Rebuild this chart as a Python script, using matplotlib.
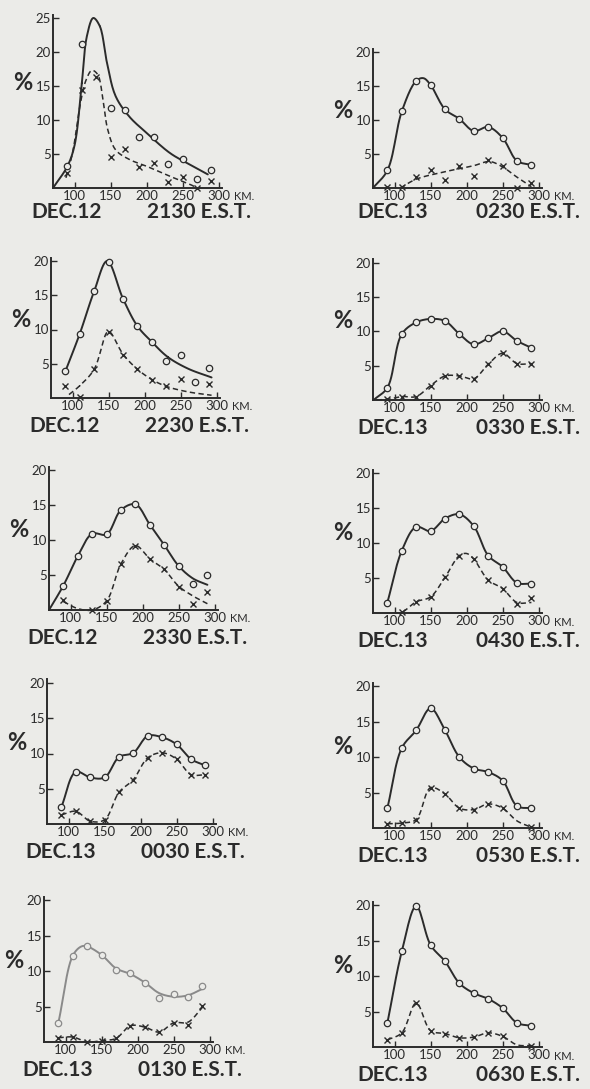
import numpy as np
import matplotlib
matplotlib.use("Agg")
import matplotlib.pyplot as plt

nan = np.nan

# ---------------- data ----------------
heights_km = [90, 110, 130, 150, 170, 190, 210, 230, 250, 270, 290]
x_ticks = [100, 150, 200, 250, 300]
x_tick_labels = ["100", "150", "200", "250", "300"]
unit_label = "KM."

dates = ["DEC.12", "DEC.13", "DEC.12", "DEC.13", "DEC.12",
         "DEC.13", "DEC.13", "DEC.13", "DEC.13", "DEC.13"]
times = ["2130 E.S.T.", "0230 E.S.T.", "2230 E.S.T.", "0330 E.S.T.", "2330 E.S.T.",
         "0430 E.S.T.", "0030 E.S.T.", "0530 E.S.T.", "0130 E.S.T.", "0630 E.S.T."]

# circles (solid curve) and crosses (dashed curve), % at each height
circ_2130 = [3.3, 21.2, nan, 11.8, 11.5, 7.5, 7.5, 3.6, 4.2, 1.3, 2.6]
cross_2130 = [2.2, 14.4, 16.3, 4.5, 5.8, 3.1, 3.7, 0.9, 1.6, 0.0, 1.0]
circ_0230 = [2.6, 11.3, 15.8, 15.2, 11.6, 10.2, 8.4, 9.0, 7.4, 4.0, 3.4]
cross_0230 = [0.2, 0.2, 1.6, 2.6, 1.2, 3.3, 1.8, 4.2, 3.2, 0.0, 0.8]
circ_2230 = [3.9, 9.4, 15.6, 19.9, 14.5, 10.5, 8.2, 5.4, 6.3, 2.3, 4.4]
cross_2230 = [1.8, 0.2, 4.2, 9.7, 6.3, 4.2, 2.7, 1.8, 2.8, nan, 2.0]
circ_0330 = [1.8, 9.6, 11.3, 11.8, 11.5, 9.6, 8.1, 9.0, 10.0, 8.6, 7.6]
cross_0330 = [0.1, 0.5, 0.5, 2.1, 3.5, 3.5, 3.1, 5.2, 6.8, 5.3, 5.3]
circ_2330 = [3.5, 7.7, 10.9, 10.8, 14.3, 15.1, 12.2, 9.3, 6.3, 3.7, 5.0]
cross_2330 = [1.5, nan, 0.0, 1.3, 6.6, 9.1, 7.3, 5.8, 3.3, 0.8, 2.6]
circ_0430 = [1.5, 8.9, 12.3, 11.7, 13.5, 14.1, 12.4, 8.2, 6.6, 4.3, 4.2]
cross_0430 = [nan, 0.1, 1.6, 2.3, 5.1, 8.2, 7.7, 4.7, 3.5, 1.3, 2.1]
circ_0030 = [2.4, 7.4, 6.6, 6.6, 9.5, 10.1, 12.5, 12.3, 11.3, 9.2, 8.3]
cross_0030 = [1.3, 1.8, 0.4, 0.6, 4.5, 6.3, 9.4, 10.1, 9.2, 7.0, 7.0]
circ_0530 = [2.8, 11.3, 13.8, 16.9, 13.8, 10.0, 8.4, 7.9, 6.7, 3.1, 2.8]
cross_0530 = [0.6, 0.7, 1.2, 5.7, 4.8, 2.8, 2.6, 3.4, 2.8, nan, 0.2]
circ_0130 = [2.7, 12.2, 13.5, 12.3, 10.2, 9.8, 8.4, 6.2, 6.8, 6.4, 7.9]
cross_0130 = [0.6, 0.7, 0.0, 0.2, 0.5, 2.3, 2.1, 1.4, 2.7, 2.4, 5.1]
circ_0630 = [3.4, 13.5, 19.9, 14.4, 12.1, 9.0, 7.6, 6.8, 5.5, 3.4, 3.0]
cross_0630 = [1.0, 2.0, 6.2, 2.3, 1.9, 1.3, 1.4, 2.0, 1.5, nan, 0.2]

# hand-drawn curve knots (km, %)
solid_2130 = [(70, 0), (90, 3.2), (100, 6.3), (110, 15.4), (117, 22.3), (126, 25.0), (135, 23.8),
              (145, 18.4), (157, 13.5), (176, 10.5), (200, 8.1), (233, 5.1), (261, 3.4), (285, 2.0)]
dashed_2130 = [(88, 1.5), (97, 5.1), (109, 13.0), (116, 15.9), (124, 17.3), (132, 16.7), (140, 12.5),
               (146, 8.6), (157, 5.6), (176, 4.2), (200, 3.2), (233, 1.7), (261, 0.5), (270, 0.0)]
solid_0230 = [(70, 0), (90, 2.6), (110, 11.3), (130, 15.8), (140, 16.2), (150, 15.2), (170, 11.6),
              (190, 10.2), (210, 8.4), (230, 9.0), (250, 7.4), (270, 4.0), (290, 3.4)]
dashed_0230 = [(108, 0.0), (130, 1.3), (170, 2.4), (210, 3.3), (232, 3.9), (250, 3.1), (270, 1.6), (290, 0.2)]
solid_2230 = [(90, 3.9), (110, 9.4), (130, 15.6), (148, 20.0), (170, 14.5), (190, 10.5), (210, 8.2),
              (232, 6.0), (260, 4.3), (293, 3.0)]
dashed_2230 = [(95, 0.5), (110, 1.8), (130, 4.2), (148, 9.6), (152, 9.6), (170, 6.4), (190, 4.2),
               (210, 2.7), (230, 1.7), (260, 0.9), (293, 0.4)]
solid_0330 = [(72, 0.1), (90, 1.8), (110, 9.6), (130, 11.3), (150, 11.8), (170, 11.5), (190, 9.6),
              (210, 8.1), (230, 9.0), (250, 10.0), (270, 8.6), (290, 7.6)]
dashed_0330 = [(75, 0.0), (90, 0.1), (110, 0.5), (130, 0.5), (150, 2.1), (170, 3.5), (190, 3.5),
               (210, 3.1), (230, 5.2), (250, 6.8), (270, 5.3), (290, 5.3)]
solid_2330 = [(70, 0), (90, 3.5), (110, 7.7), (130, 10.9), (150, 10.8), (170, 14.3), (190, 15.1),
              (210, 12.2), (230, 9.3), (250, 6.3), (270, 4.5), (290, 3.6)]
dashed_2330 = [(90, 1.2), (110, 0.2), (130, 0.0), (150, 1.3), (170, 6.6), (190, 9.2), (210, 7.3),
               (230, 5.8), (250, 3.4), (270, 2.0), (290, 0.9)]
solid_0430 = [(90, 1.5), (110, 8.9), (130, 12.3), (150, 11.7), (170, 13.5), (190, 14.1), (210, 12.4),
              (230, 8.2), (250, 6.6), (270, 4.3), (290, 4.2)]
dashed_0430 = [(100, 0.0), (110, 0.1), (130, 1.6), (150, 2.3), (170, 5.1), (190, 8.2), (200, 8.5),
               (210, 7.7), (230, 4.7), (250, 3.5), (270, 1.5), (290, 1.5)]
solid_0030 = list(zip(heights_km, circ_0030))
dashed_0030 = list(zip(heights_km, cross_0030))
solid_0530 = list(zip(heights_km, circ_0530))
dashed_0530 = [(90, 0.6), (110, 0.7), (130, 1.2), (150, 5.7), (170, 4.8), (190, 2.8), (210, 2.6),
               (230, 3.4), (250, 2.8), (270, 1.0), (290, 0.1)]
solid_0130 = [(90, 2.7), (110, 12.2), (122, 13.5), (130, 13.5), (150, 12.3), (170, 10.4), (190, 9.6),
              (210, 8.4), (230, 6.9), (250, 6.4), (270, 6.6), (290, 7.5)]
dashed_0130 = [(90, 0.6), (110, 0.7), (130, 0.0), (150, 0.2), (170, 0.5), (190, 2.3), (210, 2.1),
               (230, 1.4), (250, 2.7), (270, 2.8), (290, 4.9)]
solid_0630 = list(zip(heights_km, circ_0630))
dashed_0630 = [(90, 1.0), (110, 2.0), (130, 6.2), (150, 2.3), (170, 1.9), (190, 1.3), (210, 1.4),
               (230, 2.0), (250, 1.5), (270, 0.3), (290, 0.2)]

circles = [circ_2130, circ_0230, circ_2230, circ_0330, circ_2330,
           circ_0430, circ_0030, circ_0530, circ_0130, circ_0630]
crosses = [cross_2130, cross_0230, cross_2230, cross_0330, cross_2330,
           cross_0430, cross_0030, cross_0530, cross_0130, cross_0630]
solids = [solid_2130, solid_0230, solid_2230, solid_0330, solid_2330,
          solid_0430, solid_0030, solid_0530, solid_0130, solid_0630]
dashes = [dashed_2130, dashed_0230, dashed_2230, dashed_0330, dashed_2330,
          dashed_0430, dashed_0030, dashed_0530, dashed_0130, dashed_0630]

# ---------------- layout (pixels) ----------------
W, H = 590, 1089
# (spine x, y of zero line, y max, px per %)
layout = [(53, 188, 25.5, 6.8), (373, 188, 20.5, 6.78),
          (51, 398, 20.5, 6.85), (373, 400, 20.5, 6.87),
          (49, 610, 20.5, 7.0), (373, 613, 20.5, 7.0),
          (47, 824, 20.5, 7.05), (373, 828, 20.5, 7.08),
          (44, 1042, 20.5, 7.08), (373, 1047, 20.5, 7.08)]
XMIN, XMAX, PXKM = 70, 305, 0.72
BG = "#ebebe8"
INK = "#2b2b2b"
FONT = ["Lato", "DejaVu Sans"]


def smooth(pts, n=14):
    pts = [(x, y) for x, y in pts if not np.isnan(y)]
    P = np.array(pts, dtype=float) * np.array([PXKM, 7.0])
    if len(P) < 3:
        return P[:, 0] / PXKM, P[:, 1] / 7.0
    P = np.vstack([2 * P[0] - P[1], P, 2 * P[-1] - P[-2]])
    out = []
    for i in range(1, len(P) - 2):
        p0, p1, p2, p3 = P[i - 1], P[i], P[i + 1], P[i + 2]
        t0 = 0.0
        t1 = t0 + max(np.linalg.norm(p1 - p0), 1e-6) ** 0.5
        t2 = t1 + max(np.linalg.norm(p2 - p1), 1e-6) ** 0.5
        t3 = t2 + max(np.linalg.norm(p3 - p2), 1e-6) ** 0.5
        t = np.linspace(t1, t2, n)[:, None]
        A1 = (t1 - t) / (t1 - t0) * p0 + (t - t0) / (t1 - t0) * p1
        A2 = (t2 - t) / (t2 - t1) * p1 + (t - t1) / (t2 - t1) * p2
        A3 = (t3 - t) / (t3 - t2) * p2 + (t - t2) / (t3 - t2) * p3
        B1 = (t2 - t) / (t2 - t0) * A1 + (t - t0) / (t2 - t0) * A2
        B2 = (t3 - t) / (t3 - t1) * A2 + (t - t1) / (t3 - t1) * A3
        C = (t2 - t) / (t2 - t1) * B1 + (t - t1) / (t2 - t1) * B2
        out.append(C)
    C = np.vstack(out)
    return C[:, 0] / PXKM, C[:, 1] / 7.0


fig = plt.figure(figsize=(W / 100, H / 100), dpi=100, facecolor=BG)

for i, (sx, y0, top, sy) in enumerate(layout):
    width = (XMAX - XMIN) * PXKM
    height = top * sy
    ax = fig.add_axes([sx / W, 1 - y0 / H, width / W, height / H])
    ax.set_facecolor("none")
    ax.set_xlim(XMIN, XMAX)
    ax.set_ylim(0, top)
    for s in ("top", "right"):
        ax.spines[s].set_visible(False)
    for s in ("left", "bottom"):
        ax.spines[s].set_color(INK)
        ax.spines[s].set_linewidth(1.4)
    yt = [5, 10, 15, 20] + ([25] if top > 24 else [])
    ax.set_yticks(yt)
    ax.set_yticklabels([str(v) for v in yt], family=FONT, fontsize=9.5, color=INK)
    ax.set_xticks(x_ticks)
    ax.set_xticklabels(x_tick_labels, family=FONT, fontsize=9.5, color=INK)
    ax.tick_params(direction="in", length=4, width=1.0, color=INK, pad=1.5)
    ax.annotate(unit_label, xy=(1, 0), xycoords="axes fraction", xytext=(12, -9),
                textcoords="offset pixels", family=FONT, fontsize=8, color=INK,
                ha="left", va="center", annotation_clip=False)

    line_color = "#8a8a8a" if i == 8 else INK
    xs, ys = smooth(solids[i])
    ax.plot(xs, ys, color=line_color, lw=1.4, solid_capstyle="round", clip_on=False)
    xd, yd = smooth(dashes[i])
    ax.plot(xd, yd, color=INK, lw=1.1, dashes=(3.5, 2.2), clip_on=False)

    ax.plot(heights_km, circles[i], linestyle="none", marker="o", ms=4.6,
            mfc=BG, mec=line_color, mew=0.9, clip_on=False, zorder=3)
    ax.plot(heights_km, crosses[i], linestyle="none", marker="x", ms=3.8,
            mec=INK, mew=1.0, clip_on=False, zorder=3)

    # % label
    pv = 15.5 if top > 24 else 11.5
    fig.text((sx - 30) / W, 1 - (y0 - pv * sy) / H, "%", family=FONT, fontsize=17,
             fontweight="bold", color=INK, ha="center", va="center")
    # caption
    left_col = sx < 200
    dl, dr = (-22, 198) if left_col else (-16, 207)
    dy = 24 if i < 2 else 28
    fig.text((sx + dl) / W, 1 - (y0 + dy) / H, dates[i], family=FONT, fontsize=15,
             fontweight="bold", color=INK, ha="left", va="center")
    fig.text((sx + dr) / W, 1 - (y0 + dy) / H, times[i], family=FONT, fontsize=15,
             fontweight="bold", color=INK, ha="right", va="center")

fig.savefig("out.png", dpi=100, facecolor=BG)
